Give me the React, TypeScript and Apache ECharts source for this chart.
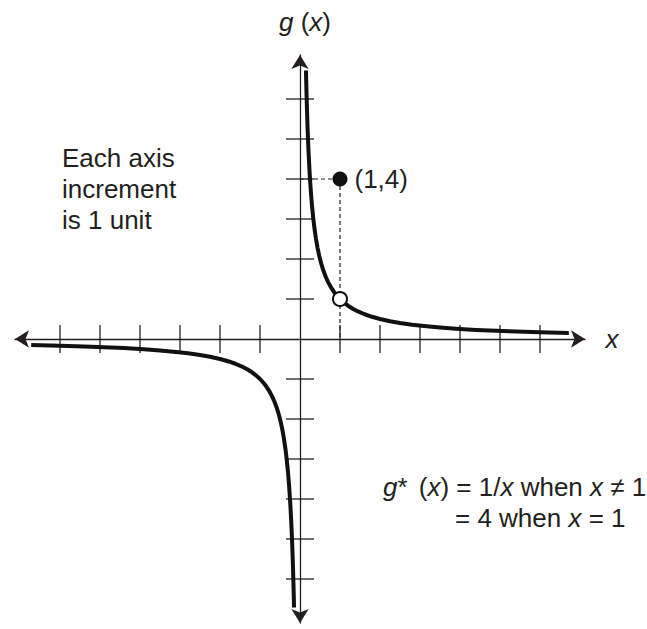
import React, { useEffect, useRef } from "react";
import * as echarts from "echarts";

const INK = "#231f20";
const FONT = "'Liberation Sans', Arial, Helvetica, sans-serif";

const xTicks = [-6, -5, -4, -3, -2, -1, 1, 2, 3, 4, 5, 6];
const yTicks = [-6, -5, -4, -3, -2, -1, 1, 2, 3, 4, 5, 6];

const rightBranch: [number, number][] = [
  [0.149, 6.711], [0.155, 6.452], [0.165, 6.061], [0.175, 5.714], [0.19, 5.263],
  [0.205, 4.878], [0.22, 4.545], [0.24, 4.167], [0.26, 3.846], [0.28, 3.571],
  [0.3, 3.333], [0.33, 3.03], [0.36, 2.778], [0.4, 2.5], [0.44, 2.273],
  [0.48, 2.083], [0.53, 1.887], [0.58, 1.724], [0.64, 1.563], [0.7, 1.429],
  [0.77, 1.299], [0.85, 1.176], [0.92, 1.087], [1.0, 1.0], [1.1, 0.909],
  [1.2, 0.833], [1.32, 0.758], [1.45, 0.69], [1.6, 0.625], [1.78, 0.562],
  [2.0, 0.5], [2.25, 0.444], [2.5, 0.4], [2.8, 0.357], [3.1, 0.323],
  [3.5, 0.286], [3.9, 0.256], [4.4, 0.227], [4.9, 0.204], [5.4, 0.185],
  [6.0, 0.167], [6.72, 0.149],
];
const leftBranch: [number, number][] = [
  [-6.72, -0.149], [-6.0, -0.167], [-5.4, -0.185], [-4.9, -0.204], [-4.4, -0.227],
  [-3.9, -0.256], [-3.5, -0.286], [-3.1, -0.323], [-2.8, -0.357], [-2.5, -0.4],
  [-2.25, -0.444], [-2.0, -0.5], [-1.78, -0.562], [-1.6, -0.625], [-1.45, -0.69],
  [-1.32, -0.758], [-1.2, -0.833], [-1.1, -0.909], [-1.0, -1.0], [-0.92, -1.087],
  [-0.85, -1.176], [-0.77, -1.299], [-0.7, -1.429], [-0.64, -1.563], [-0.58, -1.724],
  [-0.53, -1.887], [-0.48, -2.083], [-0.44, -2.273], [-0.4, -2.5], [-0.36, -2.778],
  [-0.33, -3.03], [-0.3, -3.333], [-0.28, -3.571], [-0.26, -3.846], [-0.24, -4.167],
  [-0.22, -4.545], [-0.205, -4.878], [-0.19, -5.263], [-0.175, -5.714], [-0.165, -6.061],
  [-0.155, -6.452], [-0.149, -6.711],
];
const definedPoint: [number, number][] = [[1, 4]];
const holePoint: [number, number][] = [[1, 1]];
const guideH: [number, number][] = [[0, 4], [1, 4]];
const guideV: [number, number][] = [[1, 4], [1, 0]];

const noteLines = ["Each axis", "increment", "is 1 unit"];

export default function App() {
  const ref = useRef<HTMLDivElement>(null);
  useEffect(() => {
    if (!ref.current) return;
    const chart = echarts.init(ref.current, undefined, { renderer: "svg" });
    const axisCommon = {
      type: "value" as const,
      axisLine: {
        show: true,
        onZero: true,
        symbol: ["arrow", "arrow"],
        symbolSize: [13, 14],
        lineStyle: { color: INK, width: 1.3 },
      },
      axisTick: { show: false },
      axisLabel: { show: false },
      splitLine: { show: false },
    };
    const tickSeries = (vals: number[], horizontal: boolean) => ({
      type: "custom",
      coordinateSystem: "cartesian2d",
      silent: true,
      z: 3,
      data: vals.map((v) => (horizontal ? [v, 0] : [0, v])),
      renderItem: (_p: any, api: any) => {
        const pt = api.coord([api.value(0), api.value(1)]);
        return horizontal
          ? { type: "line", shape: { x1: pt[0], y1: pt[1] - 14, x2: pt[0], y2: pt[1] + 14 }, style: { stroke: INK, lineWidth: 1.3 } }
          : { type: "line", shape: { x1: pt[0] - 14, y1: pt[1], x2: pt[0] + 14, y2: pt[1] }, style: { stroke: INK, lineWidth: 1.3 } };
      },
    });
    const curve = (data: [number, number][]) => ({
      type: "line",
      data,
      smooth: false,
      showSymbol: false,
      silent: true,
      z: 4,
      lineStyle: { color: "#111", width: 4, join: "round", cap: "butt" },
    });
    const guide = (data: [number, number][]) => ({
      type: "line",
      data,
      showSymbol: false,
      silent: true,
      z: 2,
      lineStyle: { color: INK, width: 1.2, type: [4, 3] },
    });
    const FS = 26;
    const richBase = { fontFamily: FONT, fontSize: FS, fill: INK };
    const rich = {
      i: { fontFamily: FONT, fontSize: FS, fontStyle: "italic", fill: INK, color: INK },
      n: { fontFamily: FONT, fontSize: FS, fill: INK, color: INK },
      s: { fontFamily: FONT, fontSize: FS, fill: INK, color: INK, padding: [0, 4, 0, 0] },
    };
    chart.setOption({
      animation: false,
      grid: { left: 15, width: 570, top: 55, height: 568, containLabel: false },
      xAxis: { ...axisCommon, min: -7.125, max: 7.125 },
      yAxis: { ...axisCommon, min: -7.1, max: 7.1 },
      series: [
        tickSeries(xTicks, true),
        tickSeries(yTicks, false),
        guide(guideH),
        guide(guideV),
        curve(rightBranch),
        curve(leftBranch),
        {
          type: "scatter",
          data: definedPoint,
          symbol: "circle",
          symbolSize: 15,
          z: 6,
          silent: true,
          itemStyle: { color: "#111", opacity: 1 },
          label: {
            show: true,
            position: "right",
            distance: 7,
            formatter: (p: any) => `(${p.value[0]},${p.value[1]})`,
            fontFamily: FONT,
            fontSize: FS,
            color: INK,
            opacity: 1,
          },
        },
        {
          type: "scatter",
          data: holePoint,
          symbol: "circle",
          symbolSize: 14,
          z: 6,
          silent: true,
          itemStyle: { color: "#fff", borderColor: "#111", borderWidth: 2, opacity: 1 },
        },
      ],
      graphic: [
        {
          type: "text",
          x: 305,
          y: 22,
          style: { ...richBase, text: "{i|g} {n|(}{i|x}{n|)}", rich, align: "center", verticalAlign: "middle" },
        },
        {
          type: "text",
          x: 612,
          y: 339,
          style: { ...richBase, text: "x", fontStyle: "italic", align: "center", verticalAlign: "middle" },
        },
        ...noteLines.map((t, i) => ({
          type: "text",
          x: 62,
          y: 158 + i * 31,
          style: { ...richBase, text: t, align: "left", verticalAlign: "middle" },
        })),
        {
          type: "text",
          x: 383,
          y: 487,
          style: {
            ...richBase,
            text: "{i|g}{s|*}{n| (}{i|x}{n|) = 1/}{i|x}{n| when }{i|x}{n| ≠ 1}",
            rich,
            align: "left",
            verticalAlign: "middle",
          },
        },
        {
          type: "text",
          x: 455,
          y: 518,
          style: {
            ...richBase,
            text: "{n|= 4 when }{i|x}{n| = 1}",
            rich,
            align: "left",
            verticalAlign: "middle",
          },
        },
      ],
    });
    return () => chart.dispose();
  }, []);
  return (
    <div
      ref={ref}
      style={{ position: "fixed", left: 0, top: 0, width: 647, height: 629, background: "#fff" }}
    />
  );
}
